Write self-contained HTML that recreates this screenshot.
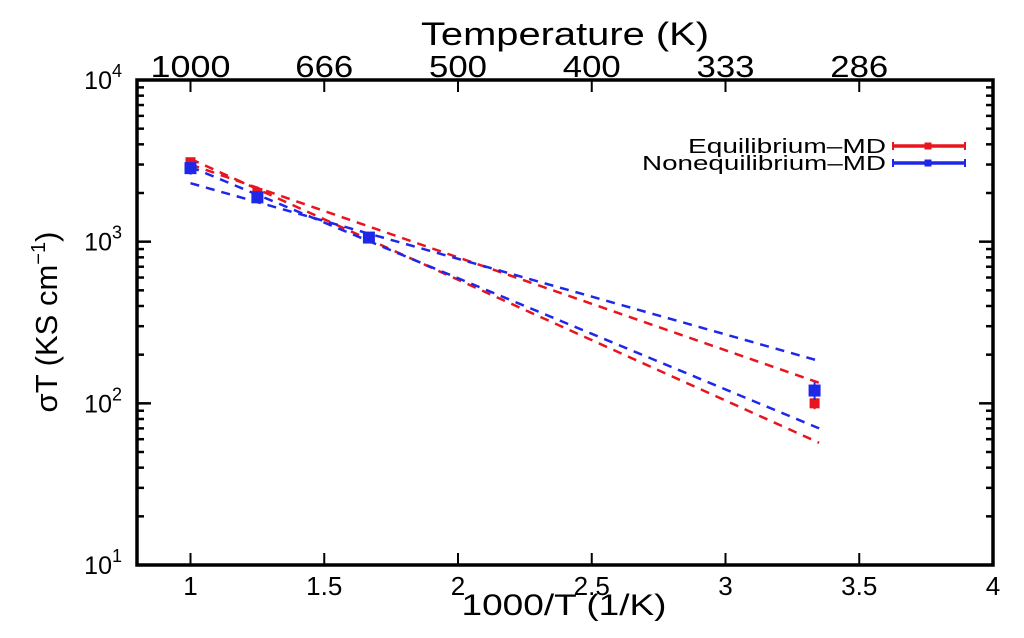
<!DOCTYPE html>
<html><head><meta charset="utf-8"><style>
body{margin:0;background:#fff;width:1024px;height:633px;overflow:hidden}
svg text{font-family:"Liberation Sans",sans-serif;fill:#000}
</style></head><body>
<svg id="c" width="1024" height="633">
<g id="legend"></g>
</svg>
<script>
const xTicks=[1,1.5,2,2.5,3,3.5,4];
const xTickLabels=["1","1.5","2","2.5","3","3.5","4"];
const topTickLabels=["1000","666","500","400","333","286"];
const yDecades=[1,2,3,4];
const eqX=[1,1.25,1.667,3.333];
const eqY=[3100,2000,1060,100];
const eqErr=[150,100,50,8];
const neqX=[1,1.25,1.667,3.333];
const neqY=[2850,1880,1060,120];
const neqErr=[250,150,60,15];
const fitX=[1,3.35];
const redFitA=[3000,134];
const redFitB=[3250,57];
const blueFitA=[2300,183];
const blueFitB=[2900,70];
const L=137,R=993,T=80,B=565;
const sx=v=>L+(v-0.8)/(4-0.8)*(R-L);
const sy=v=>B-(Math.log10(v)-1)/3*(B-T);
const svg=document.getElementById('c');
const NS='http://www.w3.org/2000/svg';
function mk(t,a,p){const e=document.createElementNS(NS,t);for(const k in a)e.setAttribute(k,a[k]);(p||svg).appendChild(e);return e;}
let e;
e=mk('rect',{x:L,y:T,width:R-L,height:B-T,fill:'none',stroke:'#000','stroke-width':3.5});


xTicks.forEach((v,i)=>{
  const x=sx(v);
  e=mk('line',{x1:x,y1:B,x2:x,y2:B-12,stroke:'#000','stroke-width':2});
  
  
  e=mk('text',{x:x,y:B+30,'text-anchor':'middle','font-size':26});e.textContent=xTickLabels[i];
  
  
  if(i<topTickLabels.length){
    e=mk('line',{x1:x,y1:T,x2:x,y2:T+12,stroke:'#000','stroke-width':2});
    
    
    e=mk('text',{x:x,y:T-3,'text-anchor':'middle','font-size':31,'textLength':i==0?80:58,'lengthAdjust':'spacingAndGlyphs'});e.textContent=topTickLabels[i];
    
    
  }
});
yDecades.forEach(d=>{
  const y=sy(Math.pow(10,d));
  e=mk('text',{x:122,y:y+9,'text-anchor':'end','font-size':25});e.textContent='10';
  
  
  const s=mk('tspan',{dy:-12,'font-size':18},e);s.textContent=String(d);
  [L,R].forEach((x,j)=>{
    const dir=j?-1:1;
    e=mk('line',{x1:x,y1:y,x2:x+dir*14,y2:y,stroke:'#000','stroke-width':2.5});
    
    
    if(d<4)for(let m=2;m<10;m++){
      const yy=sy(m*Math.pow(10,d));
      e=mk('line',{x1:x,y1:yy,x2:x+dir*7,y2:yy,stroke:'#000','stroke-width':2.5});
      
      
    }
  });
});
function fit(arr,col,name){
  e=mk('line',{x1:sx(fitX[0]),y1:sy(arr[0]),x2:sx(fitX[1]),y2:sy(arr[1]),stroke:col,'stroke-width':2.5,'stroke-dasharray':'9,7'});
  
  
}
fit(redFitA,'#e8141e','eq-fit-upper');fit(redFitB,'#e8141e','eq-fit-lower');
fit(blueFitA,'#1e28e6','neq-fit-upper');fit(blueFitB,'#1e28e6','neq-fit-lower');
eqX.forEach((v,i)=>{
  const x=sx(v);
  e=mk('line',{x1:x,y1:sy(eqY[i]+eqErr[i]),x2:x,y2:sy(eqY[i]-eqErr[i]),stroke:'#e8141e','stroke-width':2});
  
  
  e=mk('rect',{x:x-5,y:sy(eqY[i])-5,width:10,height:10,fill:'#e8141e'});
  
  
});
neqX.forEach((v,i)=>{
  const x=sx(v);
  e=mk('line',{x1:x,y1:sy(neqY[i]+neqErr[i]),x2:x,y2:sy(neqY[i]-neqErr[i]),stroke:'#1e28e6','stroke-width':2});
  
  
  e=mk('rect',{x:x-5,y:sy(neqY[i])-5,width:10,height:10,fill:'#1e28e6',stroke:'#1e28e6','stroke-width':2});
  
  
});
const g=document.getElementById('legend');
svg.appendChild(g);
const items=[["Equilibrium\u2013MD","#e8141e",146,198],["Nonequilibrium\u2013MD","#1e28e6",163,244]];
items.forEach(it=>{
  let t=mk('text',{x:886,y:it[2]+7,'text-anchor':'end','font-size':20,'textLength':it[3],'lengthAdjust':'spacingAndGlyphs'},g);t.textContent=it[0];
  
  
  let l=mk('line',{x1:893,y1:it[2],x2:965,y2:it[2],stroke:it[1],'stroke-width':3.5},g);
  
  
  [893,965].forEach(x=>{mk('line',{x1:x,y1:it[2]-4,x2:x,y2:it[2]+4,stroke:it[1],'stroke-width':2},g);});
  mk('rect',{x:925,y:it[2]-3,width:6,height:6,fill:it[1],stroke:it[1],'stroke-width':1},g);
});
let t=mk('text',{x:565,y:45,'text-anchor':'middle','font-size':32,'textLength':288,'lengthAdjust':'spacingAndGlyphs'});t.textContent='Temperature (K)';


t=mk('text',{x:564,y:615,'text-anchor':'middle','font-size':30,'textLength':205,'lengthAdjust':'spacingAndGlyphs'});t.textContent='1000/T (1/K)';


t=mk('text',{x:0,y:0,'text-anchor':'middle','font-size':31,transform:'translate(57,322) rotate(-90)'});t.textContent='\u03c3T (KS cm';


let s=mk('tspan',{dy:-12,'font-size':20},t);s.textContent='\u22121';
s=mk('tspan',{dy:12},t);s.textContent=')';
</script>
</body></html>
